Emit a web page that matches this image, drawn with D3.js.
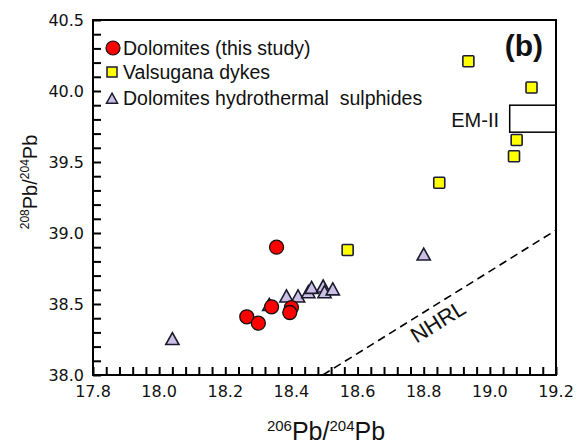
<!DOCTYPE html>
<html>
<head>
<meta charset="utf-8">
<script src="https://cdn.jsdelivr.net/npm/d3@7"></script>
<style>
  html, body { margin: 0; padding: 0; background: #fff; }
  svg { display: block; }
</style>
</head>
<body>
<svg id="chart" width="580" height="447"></svg>
<script>
// Pb isotope data: 206Pb/204Pb (x) vs 208Pb/204Pb (y)
const dolomitesX = [18.355, 18.265, 18.30, 18.34, 18.40, 18.395];
const dolomitesY = [38.90, 38.41, 38.365, 38.48, 38.475, 38.44];

const valsuganaX = [18.57, 18.847, 19.073, 19.081, 18.935, 19.126];
const valsuganaY = [38.88, 39.354, 39.54, 39.655, 40.21, 40.025];

const sulphidesX = [18.04, 18.333, 18.385, 18.42, 18.451, 18.461, 18.496, 18.50, 18.525, 18.80];
const sulphidesY = [38.25, 38.49, 38.55, 38.55, 38.58, 38.61, 38.62, 38.58, 38.60, 38.845];

// EM-II field (x range, y range)
const emIIX = [19.06, 19.2];
const emIIY = [39.71, 39.90];

// NHRL reference line end points
const nhrlX = [18.495, 19.2];
const nhrlY = [38.0, 39.02];

const xTickLabels = ["17.8", "18.0", "18.2", "18.4", "18.6", "18.8", "19.0", "19.2"];
const yTickLabels = ["38.0", "38.5", "39.0", "39.5", "40.0", "40.5"];

const legendLabels = ["Dolomites (this study)", "Valsugana dykes", "Dolomites hydrothermal  sulphides"];

const svg = d3.select("#chart");
const plotL = 93, plotR = 556, plotT = 20, plotB = 375;

const x = d3.scaleLinear().domain([17.8, 19.2]).range([plotL, plotR]);
const y = d3.scaleLinear().domain([38.0, 40.5]).range([plotB, plotT]);

const textFont = "'Liberation Sans', Arial, sans-serif";
const tickFont = "'DejaVu Sans', Verdana, sans-serif";

// tick labels
svg.append("g").selectAll("text").data(xTickLabels).join("text")
  .attr("x", d => x(+d))
  .attr("y", 397)
  .attr("text-anchor", "middle")
  .attr("font-family", tickFont)
  .attr("font-size", 16)
  .attr("fill", "#111")
  .text(d => d);

svg.append("g").selectAll("text").data(yTickLabels).join("text")
  .attr("x", 84)
  .attr("y", d => y(+d) + 6)
  .attr("text-anchor", "end")
  .attr("font-family", tickFont)
  .attr("font-size", 16)
  .attr("fill", "#111")
  .text(d => d);

// EM-II box
svg.append("rect")
  .attr("x", x(emIIX[0]))
  .attr("y", y(emIIY[1]))
  .attr("width", x(emIIX[1]) - x(emIIX[0]))
  .attr("height", y(emIIY[0]) - y(emIIY[1]))
  .attr("fill", "none")
  .attr("stroke", "#000")
  .attr("stroke-width", 1.5);

svg.append("text")
  .attr("x", 499).attr("y", 127)
  .attr("text-anchor", "end")
  .attr("font-family", textFont)
  .attr("font-size", 20)
  .attr("fill", "#111")
  .text("EM-II");

// NHRL dashed line
svg.append("line")
  .attr("x1", x(nhrlX[0])).attr("y1", y(nhrlY[0]))
  .attr("x2", x(nhrlX[1])).attr("y2", y(nhrlY[1]))
  .attr("stroke", "#000")
  .attr("stroke-width", 1.6)
  .attr("stroke-dasharray", "8,5");

const ang = Math.atan2(y(nhrlY[1]) - y(nhrlY[0]), x(nhrlX[1]) - x(nhrlX[0])) * 180 / Math.PI;
svg.append("text")
  .attr("transform", `translate(442,328) rotate(${ang})`)
  .attr("text-anchor", "middle")
  .attr("font-family", textFont)
  .attr("font-size", 22)
  .attr("fill", "#111")
  .text("NHRL");

// markers
const triPath = (s) => `M0,${-s * 0.58}L${s * 0.55},${s * 0.42}L${-s * 0.55},${s * 0.42}Z`;

svg.append("g").selectAll("path").data(sulphidesX.map((d, i) => [d, sulphidesY[i]])).join("path")
  .attr("transform", d => `translate(${x(d[0])},${y(d[1])})`)
  .attr("d", triPath(12))
  .attr("fill", "#cbbfe3")
  .attr("stroke", "#1a1a2e")
  .attr("stroke-width", 1.6);

svg.append("g").selectAll("rect").data(valsuganaX.map((d, i) => [d, valsuganaY[i]])).join("rect")
  .attr("x", d => x(d[0]) - 5.5)
  .attr("y", d => y(d[1]) - 5.5)
  .attr("width", 11).attr("height", 11)
  .attr("rx", 1)
  .attr("fill", "#ffff00")
  .attr("stroke", "#1b1b3a")
  .attr("stroke-width", 1.6);

svg.append("g").selectAll("circle").data(dolomitesX.map((d, i) => [d, dolomitesY[i]])).join("circle")
  .attr("cx", d => x(d[0]))
  .attr("cy", d => y(d[1]))
  .attr("r", 7)
  .attr("fill", "#ff0000")
  .attr("stroke", "#111")
  .attr("stroke-width", 1.3);

// legend
const legY = [48, 72, 98];
const leg = svg.append("g");
leg.append("circle").attr("cx", 113).attr("cy", legY[0]).attr("r", 7)
  .attr("fill", "#ff0000").attr("stroke", "#111").attr("stroke-width", 1.2);
leg.append("rect").attr("x", 107).attr("y", legY[1] - 5).attr("width", 10).attr("height", 10)
  .attr("fill", "#ffff00").attr("stroke", "#1b1b3a").attr("stroke-width", 1.5);
leg.append("path").attr("transform", `translate(112,${legY[2] + 1})`).attr("d", triPath(10))
  .attr("fill", "#cbbfe3").attr("stroke", "#1a1a2e").attr("stroke-width", 1.5);
leg.selectAll("text").data(legendLabels).join("text")
  .attr("x", 123)
  .attr("y", (d, i) => legY[i] + 7)
  .attr("font-family", textFont)
  .attr("font-size", 19.5)
  .attr("fill", "#111")
  .style("white-space", "pre")
  .text(d => d);

// panel letter
svg.append("text")
  .attr("x", 543).attr("y", 56)
  .attr("text-anchor", "end")
  .attr("font-family", textFont)
  .attr("font-weight", "bold")
  .attr("font-size", 30)
  .attr("fill", "#111")
  .text("(b)");

// frame
svg.append("rect")
  .attr("x", plotL).attr("y", plotT)
  .attr("width", plotR - plotL).attr("height", plotB - plotT)
  .attr("fill", "none")
  .attr("stroke", "#000")
  .attr("stroke-width", 2);

// inward minor ticks via d3 axes: every 0.04 along x, every 0.1 along y
const xMinor = d3.range(0, 36).map(i => 17.8 + i * 0.04);
const yMinor = d3.range(0, 26).map(i => 38.0 + i * 0.1);
const tickLen = 8;

const gx = svg.append("g")
  .attr("transform", `translate(0,${plotB})`)
  .call(d3.axisBottom(x).tickValues(xMinor).tickSizeInner(-tickLen).tickSizeOuter(0).tickFormat(() => ""));
const gy = svg.append("g")
  .attr("transform", `translate(${plotL},0)`)
  .call(d3.axisLeft(y).tickValues(yMinor).tickSizeInner(-tickLen).tickSizeOuter(0).tickFormat(() => ""));
[gx, gy].forEach(g => {
  g.select(".domain").remove();
  g.selectAll(".tick line").attr("stroke", "#000").attr("stroke-width", 2);
});

// axis titles with superscript mass numbers
const xt = svg.append("text")
  .attr("x", 326).attr("y", 440)
  .attr("text-anchor", "middle")
  .attr("font-family", textFont)
  .attr("font-size", 25)
  .attr("fill", "#111");
xt.append("tspan").attr("font-size", 15).attr("dy", -9).text("206");
xt.append("tspan").attr("dy", 9).text("Pb/");
xt.append("tspan").attr("font-size", 15).attr("dy", -9).text("204");
xt.append("tspan").attr("dy", 9).text("Pb");

const yt = svg.append("text")
  .attr("transform", "translate(37,182) rotate(-90)")
  .attr("text-anchor", "middle")
  .attr("font-family", textFont)
  .attr("font-size", 20)
  .attr("fill", "#111");
yt.append("tspan").attr("font-size", 12).attr("dy", -8).text("208");
yt.append("tspan").attr("dy", 8).text("Pb/");
yt.append("tspan").attr("font-size", 12).attr("dy", -8).text("204");
yt.append("tspan").attr("dy", 8).text("Pb");
</script>
</body>
</html>
